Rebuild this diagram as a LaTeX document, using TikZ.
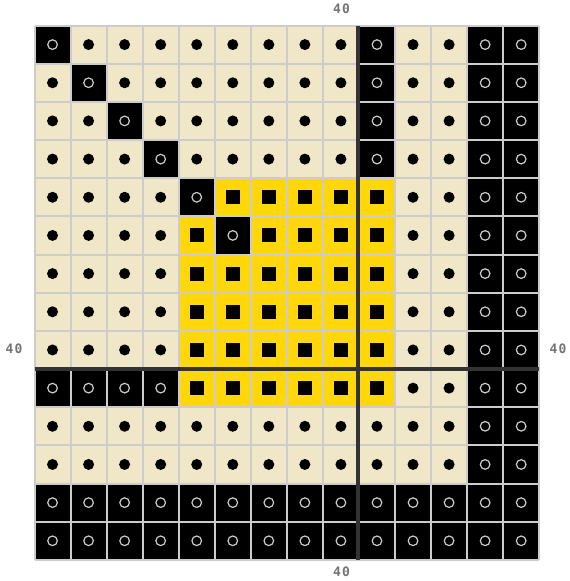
\documentclass[tikz,border=0pt]{standalone}
\usepackage{fontspec}
\newfontfamily\labfont[LetterSpace=8]{DejaVu Sans Mono}
\definecolor{beige}{HTML}{F0E6C8}
\definecolor{gold}{HTML}{FFD70A}
\definecolor{gridgrey}{HTML}{CCCCCC}
\definecolor{axisgrey}{HTML}{333333}
\definecolor{labgrey}{HTML}{747474}
\tikzset{
  mkdot/.style={fill=black},
  mkring/.style={draw=gridgrey, line width=1.2pt},
  mksq/.style={fill=black},
  gridline/.style={draw=gridgrey, line width=2pt},
  axisline/.style={draw=axisgrey, line width=4pt},
  lab/.style={text=labgrey, font=\labfont\bfseries\fontsize{13}{13}\selectfont, inner sep=0pt}
}
\newcommand\cw{36.05}
\newcommand\ch{38.17}
\newcommand\cellD[2]{%
  \fill[beige] ({34.5+(#1-1)*\cw},{25.5+(#2-1)*\ch}) rectangle +(\cw,\ch);
  \fill[mkdot] ({34.5+(#1-0.5)*\cw},{25.5+(#2-0.5)*\ch}) circle (5.5);}
\newcommand\cellB[2]{%
  \fill[black] ({34.5+(#1-1)*\cw},{25.5+(#2-1)*\ch}) rectangle +(\cw,\ch);
  \draw[mkring] ({34.5+(#1-0.5)*\cw},{25.5+(#2-0.5)*\ch}) circle (4.8);}
\newcommand\cellY[2]{%
  \fill[gold] ({34.5+(#1-1)*\cw},{25.5+(#2-1)*\ch}) rectangle +(\cw,\ch);
  \fill[mksq] ({34.5+(#1-0.5)*\cw-7},{25.5+(#2-0.5)*\ch-7}) rectangle +(14,14);}
\begin{document}
\begin{tikzpicture}[x=1pt,y=-1pt]
\useasboundingbox (0,0) rectangle (570,581);
\fill[white] (0,0) rectangle (570,581);
\foreach \row [count=\r] in {
 {B,D,D,D,D,D,D,D,D,B,D,D,B,B},
 {D,B,D,D,D,D,D,D,D,B,D,D,B,B},
 {D,D,B,D,D,D,D,D,D,B,D,D,B,B},
 {D,D,D,B,D,D,D,D,D,B,D,D,B,B},
 {D,D,D,D,B,Y,Y,Y,Y,Y,D,D,B,B},
 {D,D,D,D,Y,B,Y,Y,Y,Y,D,D,B,B},
 {D,D,D,D,Y,Y,Y,Y,Y,Y,D,D,B,B},
 {D,D,D,D,Y,Y,Y,Y,Y,Y,D,D,B,B},
 {D,D,D,D,Y,Y,Y,Y,Y,Y,D,D,B,B},
 {B,B,B,B,Y,Y,Y,Y,Y,Y,D,D,B,B},
 {D,D,D,D,D,D,D,D,D,D,D,D,B,B},
 {D,D,D,D,D,D,D,D,D,D,D,D,B,B},
 {B,B,B,B,B,B,B,B,B,B,B,B,B,B},
 {B,B,B,B,B,B,B,B,B,B,B,B,B,B}}{
  \foreach \t [count=\c] in \row {
    \csname cell\t\endcsname{\c}{\r}
  }
}
% grid lines
\foreach \i in {0,...,14}{
  \draw[gridline] ({34.5+\i*\cw},25.5) -- ({34.5+\i*\cw},{25.5+14*\ch});
  \draw[gridline] (34.5,{25.5+\i*\ch}) -- ({34.5+14*\cw},{25.5+\i*\ch});
}
% axis lines
\coordinate (vtop) at ({34.5+9*\cw-0.8},25.5);
\coordinate (vbot) at ({34.5+9*\cw-0.8},{25.5+14*\ch});
\coordinate (hleft) at (34.5,{25.5+9*\ch});
\coordinate (hright) at ({34.5+14*\cw},{25.5+9*\ch});
\draw[axisline] (vtop) -- (vbot);
\draw[axisline] (hleft) -- (hright);
% labels
\node[lab] (ltop) at (341.5,8.5) {40};
\node[lab] (lbot) at (341.5,572) {40};
\node[lab] (lleft) at (14,348.5) {40};
\node[lab] (lright) at (558,348.5) {40};
\end{tikzpicture}
\end{document}
